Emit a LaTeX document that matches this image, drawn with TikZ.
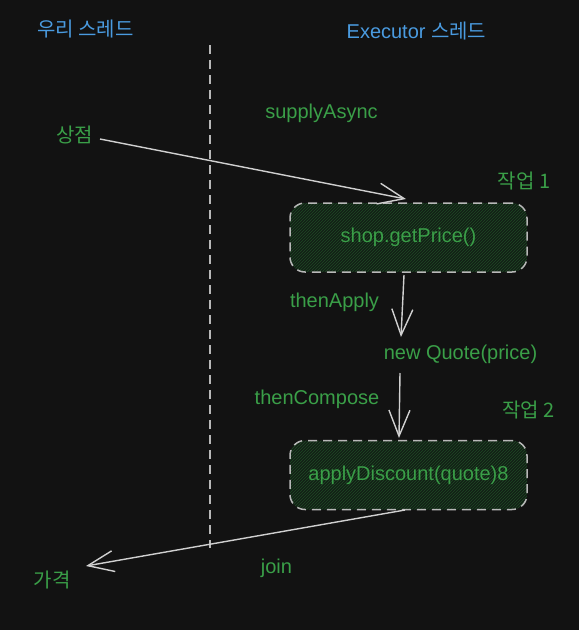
\documentclass[tikz,border=0pt]{standalone}
\usepackage{fontspec}
\setmainfont{Liberation Sans}
\newfontfamily\kr{Noto Sans CJK KR}
\usetikzlibrary{arrows.meta,patterns}
\definecolor{bg}{HTML}{121212}
\definecolor{txtgreen}{HTML}{3A9F48}
\definecolor{txtblue}{HTML}{4A9BE0}
\definecolor{linegray}{HTML}{D0D0D0}
\definecolor{dashgray}{HTML}{B8B8B8}
\definecolor{hatch}{HTML}{1E4A24}
\definecolor{boxfill}{HTML}{132016}
\begin{document}
\begin{tikzpicture}[x=1pt,y=-1pt,
  every node/.style={inner sep=0pt,font=\fontsize{20}{24}\selectfont},
  lbl/.style={text=txtgreen},
  head/.style={text=txtblue},
  taskbox/.style={draw=dashgray,line width=1.5pt,dash pattern=on 9pt off 6pt,
    rounded corners=15pt,minimum width=237pt,minimum height=69pt,
    preaction={fill=boxfill},pattern=north east lines,pattern color=hatch,
    text=txtgreen},
  arr/.style={draw=linegray,line width=1.4pt,-{Straight Barb[length=26pt,width=21pt,line width=1.4pt]}},
  sep/.style={draw=dashgray,line width=1.5pt,dash pattern=on 9pt off 6pt}]
\fill[bg] (0,0) rectangle (579,630);
\useasboundingbox (0,0) rectangle (579,630);

\node[head] (ourthread) at (85.5,29) {\kr 우리 스레드};
\node[head] (execthread) at (416.5,31) {Executor {\kr 스레드}};

\coordinate (septop) at (210,45);
\coordinate (sepbot) at (210,548);
\draw[sep] (septop) -- (sepbot);

\node[lbl] (supply) at (321.5,113) {supplyAsync};
\node[lbl] (store) at (74.5,135) {\kr 상점};
\node[lbl] (task1) at (524,181.5) {\kr 작업 1};
\node[taskbox] (box1) at (408.5,237.5) {shop.getPrice()};
\node[lbl] (thenapply) at (334.5,302) {thenApply};
\node[lbl] (quote) at (460.5,354) {new Quote(price)};
\node[lbl] (thencompose) at (317,399) {thenCompose};
\node[lbl] (task2) at (528.5,410.5) {\kr 작업 2};
\node[taskbox] (box2) at (408.5,475) {applyDiscount(quote)8};
\node[lbl] (join) at (276.5,568) {join};
\node[lbl] (price) at (52,580) {\kr 가격};

\coordinate (a1s) at (100,139);
\coordinate (a1e) at (406,199);
\coordinate (a2s) at (404,275);
\coordinate (a2e) at (401,337);
\coordinate (a3s) at (400,373);
\coordinate (a3e) at (399,438);
\coordinate (a4s) at (405,510);
\coordinate (a4e) at (86,566);

\draw[arr] (a1s) -- (a1e);
\draw[arr] (a2s) -- (a2e);
\draw[arr] (a3s) -- (a3e);
\draw[arr] (a4s) -- (a4e);
\end{tikzpicture}
\end{document}
